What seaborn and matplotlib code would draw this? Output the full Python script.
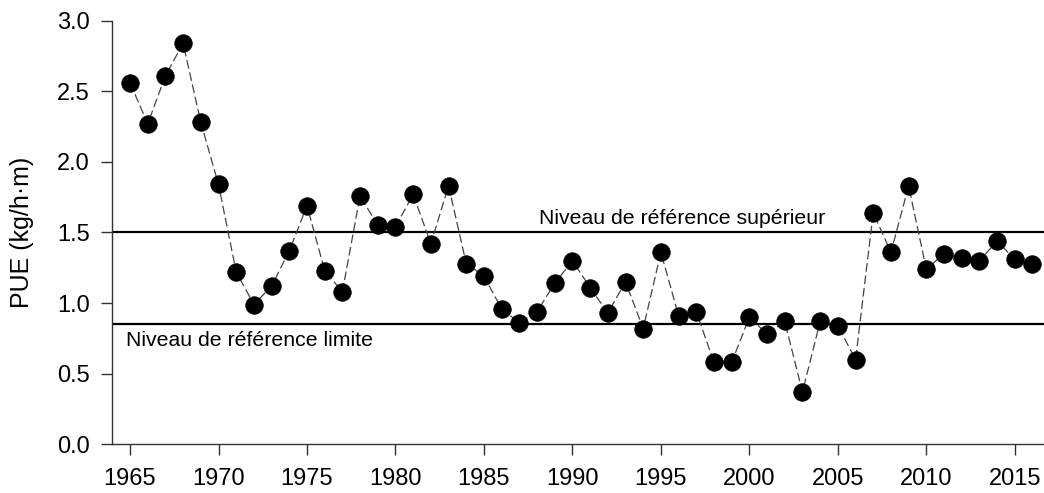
import numpy as np
import pandas as pd
import matplotlib
matplotlib.use("Agg")
import matplotlib.pyplot as plt
import seaborn as sns

# Yearly values
years = list(range(1965, 2017))
pue = [2.56, 2.27, 2.61, 2.84, 2.28, 1.84, 1.22, 0.99, 1.12, 1.37,
       1.69, 1.23, 1.08, 1.76, 1.55, 1.54, 1.77, 1.42, 1.83, 1.28,
       1.19, 0.96, 0.86, 0.94, 1.14, 1.30, 1.11, 0.93, 1.15, 0.82,
       1.36, 0.91, 0.94, 0.58, 0.58, 0.90, 0.78, 0.87, 0.37, 0.87,
       0.84, 0.60, 1.64, 1.36, 1.83, 1.24, 1.35, 1.32, 1.30, 1.44,
       1.31, 1.28]
upper_ref = 1.5
limit_ref = 0.85
upper_label = "Niveau de référence supérieur"
limit_label = "Niveau de référence limite"
x_ticks = [1965, 1970, 1975, 1980, 1985, 1990, 1995, 2000, 2005, 2010, 2015]
y_ticks = [0.0, 0.5, 1.0, 1.5, 2.0, 2.5, 3.0]

df = pd.DataFrame({"year": years, "pue": pue})

sns.set_style("ticks")
plt.rcParams['font.family'] = ['Liberation Sans', 'DejaVu Sans']
plt.rcParams['text.color'] = 'black'
plt.rcParams['axes.labelcolor'] = 'black'
plt.rcParams['xtick.color'] = 'black'
plt.rcParams['ytick.color'] = 'black'

fig = plt.figure(figsize=(10.44, 4.93), dpi=100)
ax = fig.add_axes([0.1076, 0.0988, 0.8924, 0.8592])

sns.lineplot(data=df, x="year", y="pue", ax=ax, color="#444444",
             linewidth=0.9, linestyle=(0, (7, 3)), zorder=2)
sns.scatterplot(data=df, x="year", y="pue", ax=ax, color="black",
                s=160, edgecolor="black", linewidth=0.5, zorder=3)

ax.axhline(upper_ref, color="black", linewidth=1.6, zorder=1)
ax.axhline(limit_ref, color="black", linewidth=1.6, zorder=1)
ax.text(2004.3, upper_ref + 0.035, upper_label, ha="right", va="bottom",
        fontsize=15.3)
ax.text(1964.75, limit_ref - 0.045, limit_label, ha="left", va="top",
        fontsize=15.3)

ax.set_xlim(1964, 2016.65)
ax.set_ylim(0, 3.0)
ax.set_xticks(x_ticks)
ax.set_yticks(y_ticks)
ax.set_yticklabels([f"{v:.1f}" for v in y_ticks])
ax.tick_params(axis="both", labelsize=17, direction="out", width=1,
               length=8, color="#333333", labelcolor="black")
ax.tick_params(axis="x", pad=9)
ax.tick_params(axis="y", pad=8)
ax.set_xlabel("")
ax.set_ylabel("PUE (kg/h·m)", fontsize=18)
ax.yaxis.set_label_coords(-0.084, 0.5)

for side in ["top", "right"]:
    ax.spines[side].set_visible(False)
for side in ["left", "bottom"]:
    ax.spines[side].set_linewidth(1)
    ax.spines[side].set_color("#333333")

fig.savefig("out.png", dpi=100)
